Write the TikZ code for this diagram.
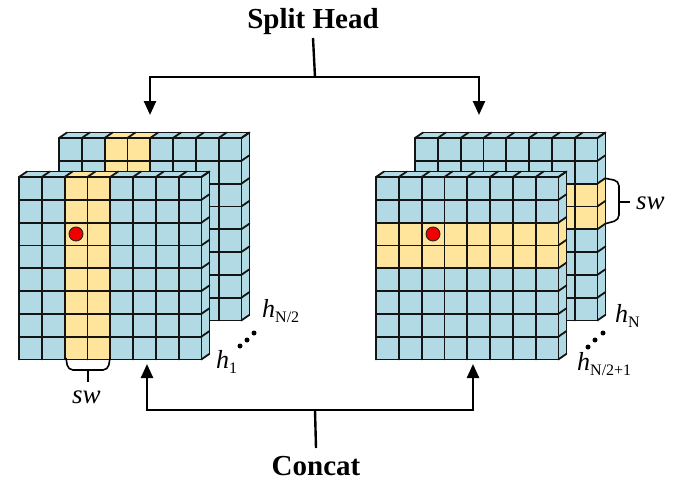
\documentclass[tikz,border=0pt]{standalone}
\usepackage{fontspec}
\setmainfont{Liberation Serif}
\usetikzlibrary{arrows.meta}
\definecolor{cellblue}{RGB}{178,218,229}
\definecolor{cellyel}{RGB}{255,228,155}
\definecolor{gline}{RGB}{20,20,20}
\definecolor{dotred}{RGB}{240,0,0}
\tikzset{
  gridline/.style={draw=gline, line width=1.8pt, line cap=round, line join=round},
  conn/.style={draw=black, line width=2.4pt},
  arr/.style={conn, -{Triangle[length=14pt,width=12pt]}},
  brk/.style={draw=black, line width=1.6pt},
  title/.style={font=\fontsize{29}{29}\selectfont\bfseries, inner sep=0pt},
  lab/.style={font=\fontsize{27}{27}\selectfont\itshape, inner sep=0pt, anchor=base west},
  hlab/.style={font=\fontsize{26}{26}\selectfont, inner sep=0pt, anchor=base west},
  reddot/.style={circle, draw=black!85, line width=0.9pt, fill=dotred, minimum size=14pt, inner sep=0pt},
  ell/.style={circle, fill=black, minimum size=5pt, inner sep=0pt}
}
\newcommand\hsub[2]{\textit{h}\raisebox{-5pt}{\fontsize{16}{16}\selectfont #2}}
% #1 x0, #2 y0, #3: 0 = column stripe, 1 = row stripe
\newcommand\gridblock[3]{%
 \begin{scope}[shift={(#1,#2)}]
  \fill[cellblue] (0,0) rectangle (182.4,182.4);
  \ifnum#3=0 \fill[cellyel] (45.6,0) rectangle (91.2,182.4);\else \fill[cellyel] (0,45.6) rectangle (182.4,91.2);\fi
  \fill[cellblue] (182.4,0) -- ++(8,-5.5) -- ++(0,182.4) -- (182.4,182.4) -- cycle;
  \ifnum#3=1 \fill[cellyel] (182.4,45.6) -- ++(8,-5.5) -- ++(0,45.6) -- (182.4,91.2) -- cycle;\fi
  \fill[cellblue] (0,0) -- ++(8,-5.5) -- ++(182.4,0) -- (182.4,0) -- cycle;
  \ifnum#3=0 \fill[cellyel] (45.6,0) -- ++(8,-5.5) -- ++(45.6,0) -- (91.2,0) -- cycle;\fi
  \foreach \i in {0,...,8}{
    \draw[gridline] (\i*22.8,0) -- (\i*22.8,182.4);
    \draw[gridline] (0,\i*22.8) -- (182.4,\i*22.8);
    \draw[gridline] (182.4,\i*22.8) -- ++(8,-5.5);
    \draw[gridline] (\i*22.8,0) -- ++(8,-5.5);
  }
  \draw[gridline] (8,-5.5) -- (190.4,-5.5) -- (190.4,176.9);
 \end{scope}}
\begin{document}
\begin{tikzpicture}[x=1pt,y=-1pt]
\useasboundingbox (0,0) rectangle (683,487);
% grids
\gridblock{59}{138}{0}
\gridblock{19}{177}{0}
\gridblock{415}{138}{1}
\gridblock{376}{177}{1}
\node[reddot] (dl) at (76,234) {};
\node[reddot] (dr) at (433,234) {};
% titles
\node[title] (split) at (313,22) {Split Head};
\node[title] (concat) at (316,466) {Concat};
% connectors
\coordinate (sj) at (315,77);
\coordinate (lin) at (150,115);
\coordinate (rin) at (479,115);
\coordinate (cj) at (315,410);
\coordinate (lout) at (147,364);
\coordinate (rout) at (473,364);
\draw[conn] (split.south |- 0,38) -- (sj);
\draw[arr] (sj) -| (lin);
\draw[arr] (sj) -| (rin);
\draw[conn] (concat.north |- 0,448) -- (cj);
\draw[arr] (cj) -| (lout);
\draw[arr] (cj) -| (rout);
% braces
\draw[brk, rounded corners=5pt] (66,358) -- (68,370) -- (108,370) -- (110,358);
\draw[brk] (88,370) -- (88,382);
\draw[brk, rounded corners=5pt] (606,178.5) -- (619,181) -- (619,220) -- (606,223.5);
\draw[brk] (619,202) -- (630,202);
\node[lab] (swl) at (72,403) {sw};
\node[lab] (swr) at (636,209) {sw};
% head labels
\node[hlab] (h1) at (216,368) {\hsub{h}{1}};
\node[hlab] (hn2) at (262,317) {\hsub{h}{N/2}};
\node[hlab] (hn) at (615,322) {\hsub{h}{N}};
\node[hlab] (hn21) at (577,370) {\hsub{h}{N/2+1}};
% ellipsis dots
\node[ell] (l1) at (240,346) {};
\node[ell] (l2) at (247,340) {};
\node[ell] (l3) at (254,333) {};
\node[ell] (r1) at (588,347) {};
\node[ell] (r2) at (595,340) {};
\node[ell] (r3) at (603,333) {};
\end{tikzpicture}
\end{document}
